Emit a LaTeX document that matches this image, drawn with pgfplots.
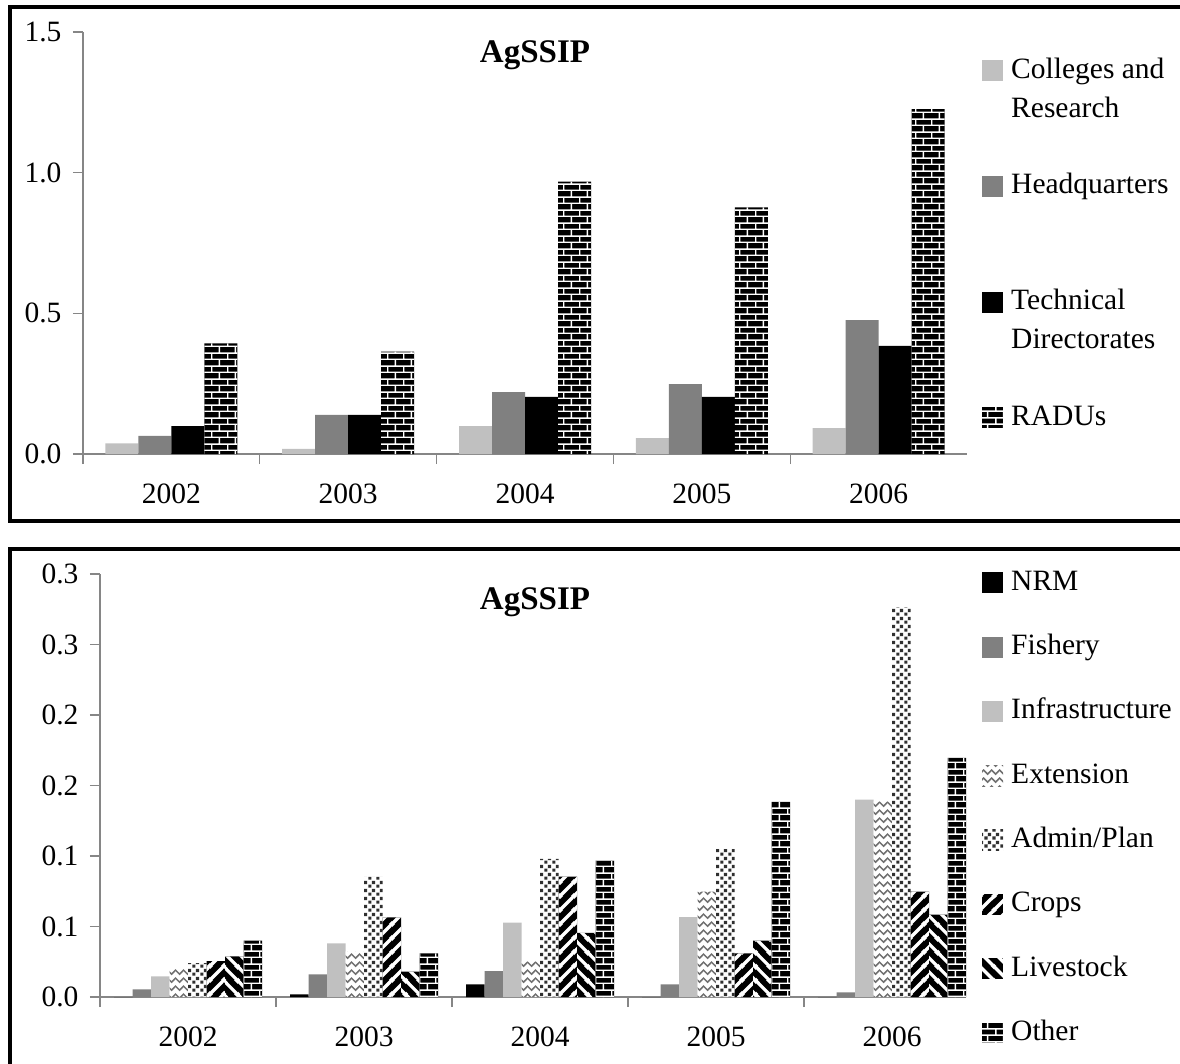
\documentclass[border=0pt]{standalone}
\usepackage{fontspec}
\setmainfont{Liberation Serif}
\usepackage{pgfplots}
\pgfplotsset{compat=1.18}
\usetikzlibrary{patterns}
\definecolor{lgray}{HTML}{C0C0C0}
\definecolor{mgray}{HTML}{808080}
\definecolor{axisgray}{HTML}{868686}
\definecolor{dgray}{HTML}{303030}
\definecolor{egray}{HTML}{707070}
\newcommand\myfont{\fontsize{29.5}{39}\selectfont}

\pgfdeclarepatternformonly{mybricks}{\pgfqpoint{0pt}{0pt}}{\pgfqpoint{16pt}{13pt}}{\pgfqpoint{16pt}{13pt}}{%
 \pgfsetlinewidth{1.5pt}%
 \pgfpathmoveto{\pgfqpoint{-1pt}{3pt}}\pgfpathlineto{\pgfqpoint{17pt}{3pt}}%
 \pgfpathmoveto{\pgfqpoint{-1pt}{9.5pt}}\pgfpathlineto{\pgfqpoint{17pt}{9.5pt}}%
 \pgfpathmoveto{\pgfqpoint{4pt}{3pt}}\pgfpathlineto{\pgfqpoint{4pt}{9.5pt}}%
 \pgfpathmoveto{\pgfqpoint{12pt}{9.5pt}}\pgfpathlineto{\pgfqpoint{12pt}{16pt}}%
 \pgfpathmoveto{\pgfqpoint{12pt}{-1pt}}\pgfpathlineto{\pgfqpoint{12pt}{3pt}}%
 \pgfusepath{stroke}}
\pgfdeclarepatternformonly{croppat}{\pgfqpoint{0pt}{0pt}}{\pgfqpoint{14pt}{14pt}}{\pgfqpoint{14pt}{14pt}}{%
 \pgfsetlinewidth{3.5pt}%
 \pgfpathmoveto{\pgfqpoint{-2pt}{-2pt}}\pgfpathlineto{\pgfqpoint{16pt}{16pt}}%
 \pgfpathmoveto{\pgfqpoint{-2pt}{12pt}}\pgfpathlineto{\pgfqpoint{2pt}{16pt}}%
 \pgfpathmoveto{\pgfqpoint{12pt}{-2pt}}\pgfpathlineto{\pgfqpoint{16pt}{2pt}}%
 \pgfusepath{stroke}}
\pgfdeclarepatternformonly{livepat}{\pgfqpoint{0pt}{0pt}}{\pgfqpoint{14pt}{14pt}}{\pgfqpoint{14pt}{14pt}}{%
 \pgfsetlinewidth{3.5pt}%
 \pgfpathmoveto{\pgfqpoint{-2pt}{16pt}}\pgfpathlineto{\pgfqpoint{16pt}{-2pt}}%
 \pgfpathmoveto{\pgfqpoint{-2pt}{2pt}}\pgfpathlineto{\pgfqpoint{2pt}{-2pt}}%
 \pgfpathmoveto{\pgfqpoint{12pt}{16pt}}\pgfpathlineto{\pgfqpoint{16pt}{12pt}}%
 \pgfusepath{stroke}}
\pgfdeclarepatternformonly{extpat}{\pgfqpoint{0pt}{0pt}}{\pgfqpoint{8pt}{8pt}}{\pgfqpoint{8pt}{8pt}}{%
 \pgfsetlinewidth{1.7pt}%
 \pgfpathmoveto{\pgfqpoint{-1pt}{7pt}}\pgfpathlineto{\pgfqpoint{4pt}{2pt}}\pgfpathlineto{\pgfqpoint{9pt}{7pt}}%
 \pgfusepath{stroke}}
\pgfdeclarepatternformonly{adminpat}{\pgfqpoint{0pt}{0pt}}{\pgfqpoint{8pt}{8pt}}{\pgfqpoint{8pt}{8pt}}{%
 \pgfpathrectangle{\pgfqpoint{0.3pt}{0.3pt}}{\pgfqpoint{3.6pt}{3.6pt}}%
 \pgfpathrectangle{\pgfqpoint{4.3pt}{4.3pt}}{\pgfqpoint{3.6pt}{3.6pt}}%
 \pgfusepath{fill}}

\pgfplotsset{myax/.style={
  scale only axis, axis lines*=left, tick align=outside,
  axis line style={draw=axisgray, line width=1.3pt},
  tick style={draw=axisgray, line width=1.3pt},
  major tick length=10pt,
  ybar=0pt, ymin=0, xmin=-0.5,
  xtick={-0.5,0.5,1.5,2.5,3.5}, xticklabels={},
  extra x ticks={0,1,2,3,4},
  extra x tick labels={2002,2003,2004,2005,2006},
  extra x tick style={tick style={draw=none}, xticklabel style={yshift=-16pt}},
  yticklabel style={xshift=-8pt},
  font=\myfont, tick label style={font=\myfont},
  legend cell align=left,
  legend image code/.code={\fill[##1,draw=none] (0pt,-3pt) rectangle (21pt,18pt);},
  clip=false,
}}

\begin{document}
\begin{tikzpicture}[x=1pt,y=1pt]
\path[use as bounding box] (0,0) rectangle (1180,-1064);
\clip (0,0) rectangle (1180,-1064);
\draw[line width=3.5pt] (10,-7) rectangle (1195,-521);
\draw[line width=3.5pt] (10,-549) rectangle (1195,-1090);

\begin{axis}[myax,
  at={(83pt,-454pt)}, anchor=south west,
  width=884pt, height=422pt,
  xmax=4.5, ymax=1.5,
  ytick={0,0.5,1,1.5}, yticklabels={0.0,0.5,1.0,1.5},
  bar width=33pt,
  legend style={at={(1.017,0.9408)}, anchor=north west, draw=none, fill=none,
    inner sep=0pt, row sep=44.7pt, column sep=8pt,
    nodes={anchor=base west, inner sep=0pt, text height=21pt, text depth=50pt}},
]
\addplot[fill=lgray, draw=none] coordinates {(0,0.038) (1,0.018) (2,0.0995) (3,0.056) (4,0.092)};
\addlegendentry{\vtop{\hbox{Colleges and}\hbox{Research}}}
\addplot[fill=mgray, draw=none] coordinates {(0,0.064) (1,0.139) (2,0.22) (3,0.248) (4,0.476)};
\addlegendentry{Headquarters}
\addplot[fill=black, draw=none] coordinates {(0,0.0995) (1,0.139) (2,0.203) (3,0.203) (4,0.384)};
\addlegendentry{\vtop{\hbox{Technical}\hbox{Directorates}}}
\addplot[fill=black, draw=none, postaction={pattern=mybricks, pattern color=white}] coordinates {(0,0.393) (1,0.364) (2,0.968) (3,0.877) (4,1.226)};
\addlegendentry{RADUs}
\end{axis}
\node[font=\fontsize{33}{39}\selectfont\bfseries] at (535,-55) {AgSSIP};

\begin{axis}[myax,
  at={(100pt,-997pt)}, anchor=south west,
  width=866pt, height=423pt,
  xmax=4.42, ymax=0.30,
  ytick={0,0.05,0.1,0.15,0.2,0.25,0.3}, yticklabels={0.0,0.1,0.1,0.2,0.2,0.3,0.3},
  bar width=18.5pt,
  legend style={at={(1.0185,1.0118)}, anchor=north west, draw=none, fill=none,
    inner sep=0pt, row sep=33.3pt, column sep=8pt,
    nodes={anchor=base west, inner sep=0pt, text height=21pt, text depth=10pt}},
]
\addplot[fill=black, draw=none] coordinates {(0,0) (1,0.0019) (2,0.009) (3,0) (4,0)};
\addlegendentry{NRM}
\addplot[fill=mgray, draw=none] coordinates {(0,0.0055) (1,0.016) (2,0.0184) (3,0.009) (4,0.0033)};
\addlegendentry{Fishery}
\addplot[fill=lgray, draw=none] coordinates {(0,0.0146) (1,0.038) (2,0.0528) (3,0.0566) (4,0.140)};
\addlegendentry{Infrastructure}
\addplot[fill=white, draw=none, postaction={pattern=extpat, pattern color=egray}] coordinates {(0,0.0205) (1,0.0323) (2,0.0252) (3,0.0748) (4,0.1387)};
\addlegendentry{Extension}
\addplot[fill=white, draw=none, postaction={pattern=adminpat, pattern color=dgray}] coordinates {(0,0.024) (1,0.0854) (2,0.0979) (3,0.105) (4,0.2764)};
\addlegendentry{Admin/Plan}
\addplot[fill=black, draw=none, postaction={pattern=croppat, pattern color=white}] coordinates {(0,0.0255) (1,0.0564) (2,0.0854) (3,0.031) (4,0.0748)};
\addlegendentry{Crops}
\addplot[fill=black, draw=none, postaction={pattern=livepat, pattern color=white}] coordinates {(0,0.0288) (1,0.018) (2,0.0455) (3,0.040) (4,0.0585)};
\addlegendentry{Livestock}
\addplot[fill=black, draw=none, postaction={pattern=mybricks, pattern color=white}] coordinates {(0,0.040) (1,0.031) (2,0.0967) (3,0.1384) (4,0.1696)};
\addlegendentry{Other}
\end{axis}
\node[font=\fontsize{33}{39}\selectfont\bfseries] at (535,-602) {AgSSIP};
\end{tikzpicture}
\end{document}
